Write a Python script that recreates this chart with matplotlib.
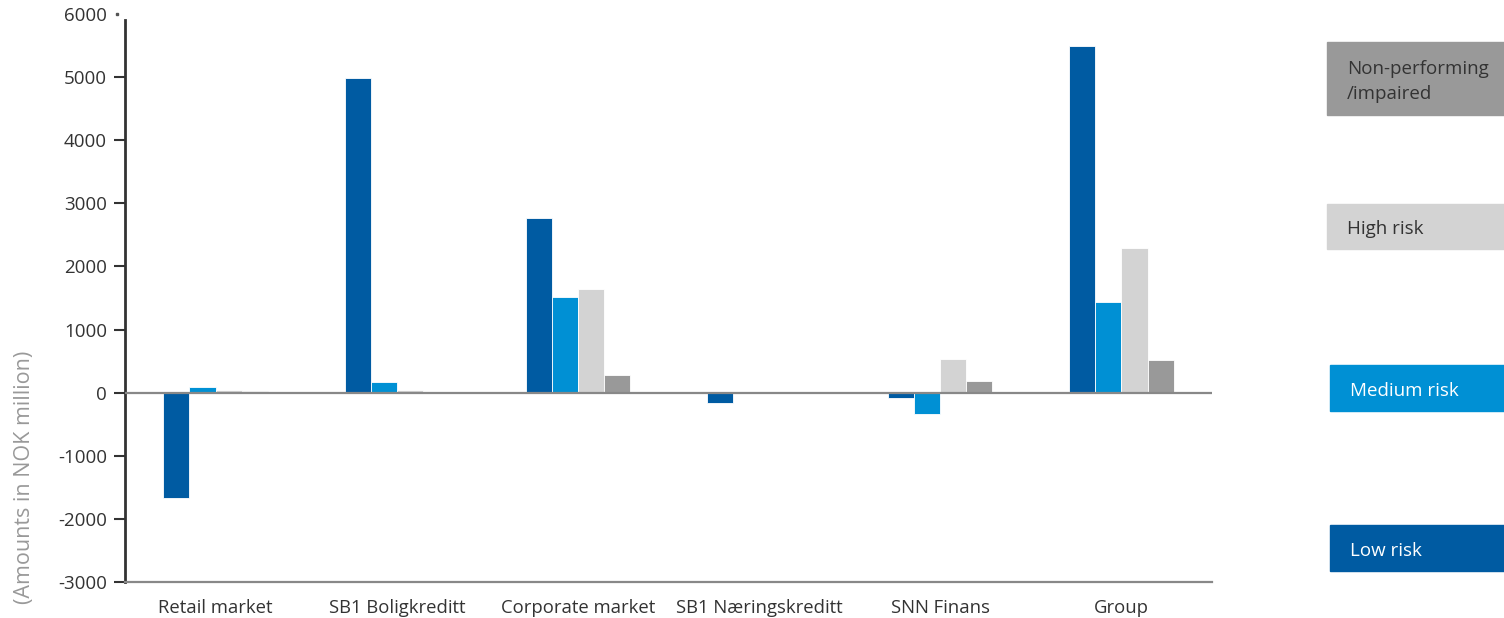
import numpy as np
import matplotlib.pyplot as plt
from matplotlib import transforms

categories = ["Retail market", "SB1 Boligkreditt", "Corporate market",
              "SB1 Næringskreditt", "SNN Finans", "Group"]
low_risk = [-1670, 4980, 2775, -160, -90, 5500]
medium_risk = [95, 175, 1520, 0, -340, 1440]
high_risk = [50, 45, 1650, 0, 540, 2285]
non_performing = [30, 10, 285, 0, 190, 510]

series_names = ["Low risk", "Medium risk", "High risk", "Non-performing\n/impaired"]
colors = ["#005BA2", "#0090D4", "#D3D3D3", "#999999"]
text_colors = ["white", "white", "#333333", "#333333"]
yticks = [-3000, -2000, -1000, 0, 1000, 2000, 3000, 4000, 5000, 6000]

plt.rcParams['font.family'] = ['Open Sans', 'DejaVu Sans']

fig = plt.figure(figsize=(15.04, 6.18), dpi=100)
ax = fig.add_axes([0.0831, 0.0583, 0.7228, 0.9190])

x = np.arange(len(categories))
w = 0.144
series = [low_risk, medium_risk, high_risk, non_performing]
for i, vals in enumerate(series):
    ax.bar(x + (i - 1.5) * w, vals, width=w, color=colors[i],
           edgecolor="white", linewidth=0.6, zorder=2)

ax.axhline(0, color="#888888", linewidth=1.6, zorder=3)

ax.set_xlim(-0.5, len(categories) - 0.5)
ax.set_ylim(-3000, 6000)
ax.set_yticks(yticks)
ax.set_yticklabels([str(t) for t in yticks], fontsize=13.5, color="#333333")
ax.set_xticks(x)
ax.set_xticklabels(categories, fontsize=13.3, color="#333333")
ax.tick_params(axis="x", length=0, pad=12)
ax.tick_params(axis="y", length=8, width=1.5, color="#333333", pad=5)

# top tick is only a small dot in the original
ax.yaxis.get_major_ticks()[-1].tick1line.set_visible(False)
trans = transforms.blended_transform_factory(ax.transAxes, ax.transData)
ax.plot([-0.0075], [6000], marker="s", markersize=1.5, color="#555555",
        transform=trans, clip_on=False)

for s in ["top", "right"]:
    ax.spines[s].set_visible(False)
ax.spines["left"].set_color("#333333")
ax.spines["left"].set_linewidth(2)
ax.spines["left"].set_bounds(-3000, 5900)
ax.spines["bottom"].set_color("#888888")
ax.spines["bottom"].set_linewidth(1.6)

fig.text(0.016, 0.227, "(Amounts in NOK million)", rotation=90, fontsize=15.5,
         color="#999999", ha="center", va="center")

# legend boxes on the right, top to bottom
boxes = [(3, 1327, 42, 115), (2, 1327, 204, 249), (1, 1330, 365, 411), (0, 1330, 525, 571)]
W, H = 1504.0, 618.0
for idx, x0, y0, y1 in boxes:
    fig.patches.append(plt.Rectangle((x0 / W, 1 - y1 / H), (W - x0) / W, (y1 - y0) / H,
                                     transform=fig.transFigure, color=colors[idx], zorder=1))
    fig.text((x0 + 20) / W, 1 - ((y0 + y1) / 2 + 3) / H, series_names[idx], fontsize=13.5,
             color=text_colors[idx], ha="left", va="center", linespacing=1.45)

fig.savefig("out.png", dpi=100)
